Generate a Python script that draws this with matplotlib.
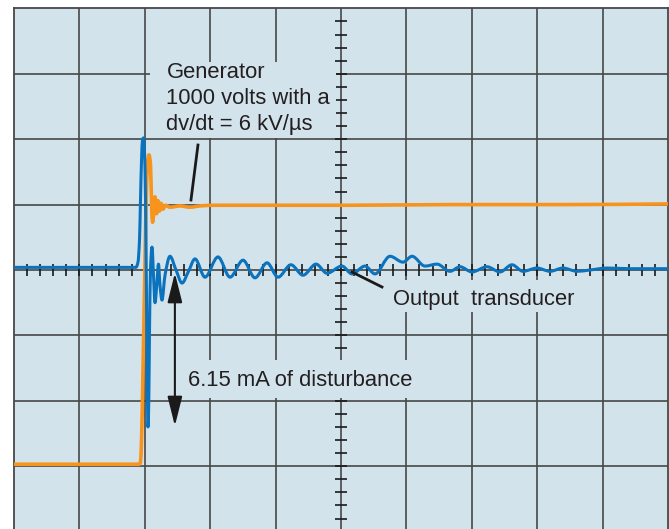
import numpy as np
import matplotlib
matplotlib.use("Agg")
import matplotlib.pyplot as plt
from matplotlib.path import Path
from matplotlib.patches import PathPatch, Rectangle, FancyArrowPatch

plt.rcParams['font.family'] = ['Liberation Sans', 'DejaVu Sans']

# ---- data (time and amplitude in screen divisions) ----
blue_t = [0.00, 1.865, 1.896, 1.919, 1.934, 1.950, 1.965, 1.980, 1.995, 2.011, 2.026,
          2.038, 2.049, 2.061, 2.072, 2.087, 2.110, 2.133, 2.156, 2.183, 2.209, 2.232,
          2.263, 2.309, 2.385, 2.477, 2.569, 2.668, 2.768, 2.920, 3.119, 3.303, 3.502,
          3.685, 3.869, 4.037, 4.235, 4.419, 4.618, 4.786, 5.015, 5.168, 5.367, 5.520,
          5.749, 5.948, 6.086, 6.284, 6.468, 6.667, 6.820, 7.003, 7.232, 7.431, 7.615,
          7.783, 7.997, 8.196, 8.394, 8.609, 8.807, 9.067, 9.419, 10.0]
blue_v = [0.04, 0.04, 0.12, 0.46, 1.07, 1.68, 1.99, 2.02, 1.83, 1.07, -0.46,
          -1.68, -2.40, -1.99, -0.92, 0.00, 0.35, -0.08, -0.50, -0.23, 0.09, -0.23,
          -0.46, -0.08, 0.21, 0.00, -0.20, -0.02, 0.17, -0.11, 0.20, -0.11, 0.15,
          -0.12, 0.11, -0.11, 0.08, -0.08, 0.09, -0.05, 0.06, -0.06, 0.06, -0.06,
          0.21, 0.12, 0.21, 0.06, 0.09, -0.02, 0.05, -0.03, 0.05, -0.03, 0.08,
          -0.02, 0.03, -0.02, 0.03, -0.02, 0.00, 0.03, 0.02, 0.02]

orange_t = [0.0, 1.911, 1.934, 1.950, 1.972, 1.995, 2.018, 2.040, 2.064, 2.087, 2.102,
            2.118, 2.138, 2.156, 2.179, 2.202, 2.225, 2.248, 2.278, 2.317, 2.385, 2.538,
            2.691, 2.844, 3.073, 3.761, 5.138, 6.667, 8.349, 10.0]
orange_v = [-2.97, -2.97, -2.94, -2.60, -1.53, -0.31, 0.92, 1.61, 1.76, 1.61, 1.07,
            0.73, 0.89, 1.12, 0.86, 1.06, 0.90, 1.02, 0.93, 0.99, 0.96, 0.98,
            0.96, 0.98, 0.99, 0.99, 0.99, 1.00, 1.00, 1.01]

label_generator = ["Generator", "1000 volts with a", "dv/dt = 6 kV/\u00b5s"]
label_output = "Output  transducer"
label_disturb = "6.15 mA of disturbance"

BG = '#d3e3ec'
GRID = '#474747'
BLUE = '#0b73bd'
ORANGE = '#f7941d'
TXT = '#231f20'


def smooth_path(xs, ys):
    """Monotone cubic (PCHIP-style) curve through the read points, drawn as Bezier."""
    x = np.asarray(xs, float)
    y = np.asarray(ys, float)
    n = len(x)
    h = np.diff(x)
    d = np.diff(y) / h
    m = np.zeros(n)
    m[0] = d[0]
    m[-1] = d[-1]
    for k in range(1, n - 1):
        if d[k - 1] * d[k] <= 0:
            m[k] = 0.0
        else:
            w1 = 2 * h[k] + h[k - 1]
            w2 = h[k] + 2 * h[k - 1]
            m[k] = (w1 + w2) / (w1 / d[k - 1] + w2 / d[k])
    verts = [(x[0], y[0])]
    codes = [Path.MOVETO]
    for k in range(n - 1):
        c1 = (x[k] + h[k] / 3, y[k] + m[k] * h[k] / 3)
        c2 = (x[k + 1] - h[k] / 3, y[k + 1] - m[k + 1] * h[k] / 3)
        verts += [c1, c2, (x[k + 1], y[k + 1])]
        codes += [Path.CURVE4] * 3
    return Path(verts, codes)


fig = plt.figure(figsize=(6.69, 5.29), dpi=100)
ax = fig.add_axes([14 / 669, (529 - 531.6) / 529, 654 / 669, 523.2 / 529])
ax.set_xlim(0, 10)
ax.set_ylim(-4, 4)
ax.set_facecolor(BG)
for s in ax.spines.values():
    s.set_color(GRID)
    s.set_linewidth(1.3)
ax.set_xticks([])
ax.set_yticks([])

for gx in range(1, 10):
    ax.axvline(gx, color=GRID, lw=1.2, zorder=1)
for gy in range(-3, 4):
    ax.axhline(gy, color=GRID, lw=1.2, zorder=1)

# centre graticule ticks
minor_x = np.arange(0.2, 10.0, 0.2)
ax.plot(minor_x, np.zeros_like(minor_x), ls='none', marker='|', ms=8,
        mew=1.2, color='#1a1a1a', zorder=1.5)
minor_y = np.arange(-3.8, 4.0, 0.2)
ax.plot(np.full_like(minor_y, 5.0), minor_y, ls='none', marker='_', ms=9,
        mew=1.2, color='#1a1a1a', zorder=1.5)

# label backgrounds (mask grid)
ax.add_patch(Rectangle((2.08, 2.02), 2.84, 1.16, facecolor=BG, edgecolor='none', zorder=2))
ax.add_patch(Rectangle((2.57, -1.96), 3.56, 0.58, facecolor=BG, edgecolor='none', zorder=2))
ax.add_patch(Rectangle((5.70, -0.64), 2.92, 0.48, facecolor=BG, edgecolor='none', zorder=2))

# traces
ax.add_patch(PathPatch(smooth_path(orange_t, orange_v), fill=False, edgecolor=ORANGE,
                       lw=2.6, zorder=3, capstyle='round', joinstyle='round'))
ax.add_patch(PathPatch(smooth_path(blue_t, blue_v), fill=False, edgecolor=BLUE,
                       lw=2.2, zorder=4, capstyle='round', joinstyle='round'))

# annotations
FS = 15.8
for i, line in enumerate(label_generator):
    ax.text(2.33, 2.936 - i * 0.3976, line, fontsize=FS, color=TXT,
            ha='left', va='baseline', zorder=5)
ax.plot([2.813, 2.706], [1.911, 1.070], color='#1a1a1a', lw=2.0, zorder=5)

ax.text(5.795, -0.535, label_output, fontsize=FS, color=TXT,
        ha='left', va='baseline', zorder=5)
ax.plot([5.168, 5.627], [-0.031, -0.26], color='#1a1a1a', lw=2.0, zorder=5)

ax.text(2.66, -1.774, label_disturb, fontsize=FS, color=TXT,
        ha='left', va='baseline', zorder=5)
arr = FancyArrowPatch((2.46, -0.046), (2.46, -2.385),
                      arrowstyle='<|-|>,head_length=1.8,head_width=0.45',
                      mutation_scale=10, color='#1a1a1a', lw=1.5,
                      shrinkA=0, shrinkB=0, zorder=5)
ax.add_patch(arr)

fig.savefig('out.png', dpi=100, facecolor='white')
